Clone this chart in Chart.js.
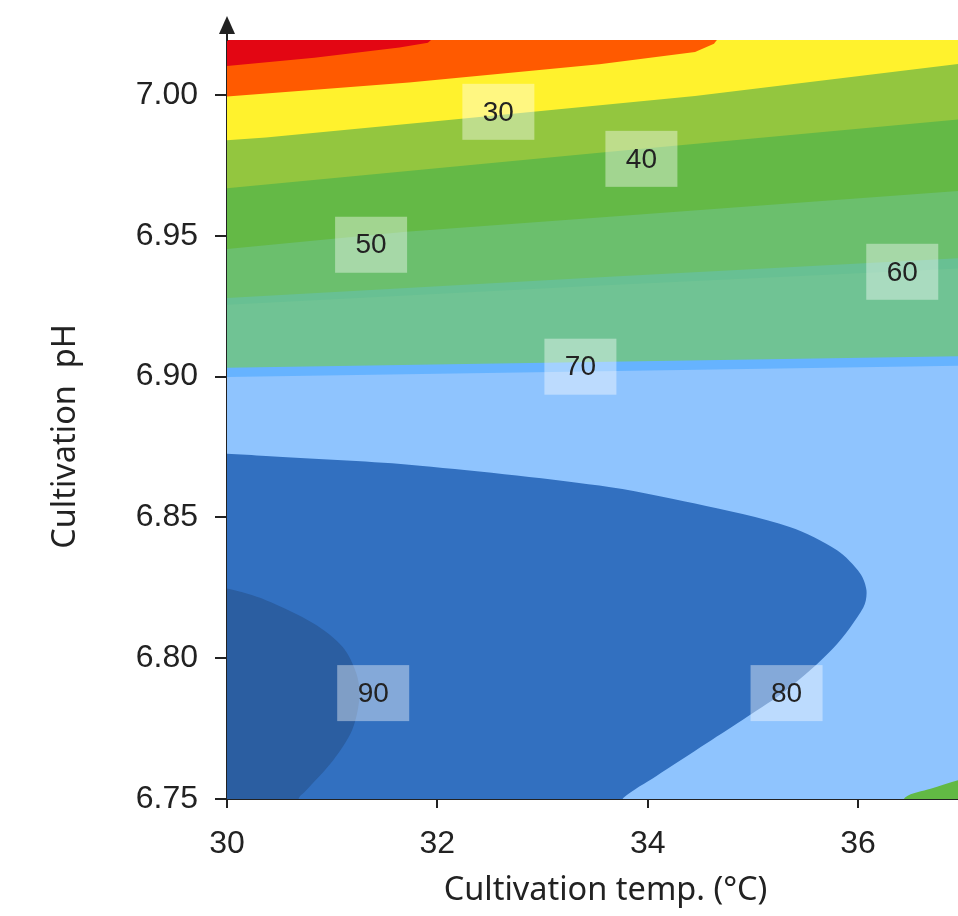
<!DOCTYPE html>
<html>
<head>
<meta charset="utf-8">
<script src="https://cdn.jsdelivr.net/npm/chart.js"></script>
<style>
html, body { margin: 0; padding: 0; background: #fff; }
</style>
</head>
<body>
<canvas id="contour-graph" width="958" height="916"></canvas>
<script>
// axis ticks
const tempTicks = [30, 32, 34, 36];
const phTicks = [6.75, 6.80, 6.85, 6.90, 6.95, 7.00];

// contour boundaries (temp in °C, pH), bottom to top
const baseTemp = [29.8, 37.2];
const basePh = [6.745, 6.745];
const blueLowTemp = [30, 37];
const blueLowPh = [6.8998, 6.9039];
const blueUpTemp = [30, 37];
const blueUpPh = [6.9031, 6.9072];
const tealUpTemp = [30, 33.5, 37];
const tealUpPh = [6.9255, 6.9322, 6.9385];
const thinUpTemp = [30, 33.5, 37];
const thinUpPh = [6.9279, 6.9352, 6.9421];
const medUpTemp = [30, 31.7, 33.54, 35.3, 37];
const medUpPh = [6.9453, 6.9514, 6.9565, 6.9614, 6.9660];
const greenUpTemp = [30, 33.54, 37];
const greenUpPh = [6.9669, 6.9795, 6.9914];
const ygUpTemp = [30, 30.37, 32.18, 34.45, 37];
const ygUpPh = [6.9839, 6.9849, 6.9914, 6.9996, 7.0112];
const yellowUpTemp = [30, 31.73, 33.54, 34.45, 34.63, 34.70];
const yellowUpPh = [6.9994, 7.0044, 7.0109, 7.0152, 7.0182, 7.0215];
const orangeUpTemp = [30, 30.83, 31.64, 31.91, 32.00];
const orangeUpPh = [7.0103, 7.0132, 7.0168, 7.0185, 7.0215];

// closed regions
const zone80Temp = [29.8, 30, 30.37, 31.73, 33.54, 34.45, 35.35, 35.80, 36.02, 36.08, 36.05, 35.77, 35.32, 34.95, 34.56, 34.08, 33.77, 33.70, 29.8];
const zone80Ph = [6.8726, 6.8726, 6.8718, 6.8687, 6.8613, 6.8549, 6.8466, 6.8383, 6.8301, 6.8240, 6.8180, 6.8038, 6.7887, 6.7793, 6.7698, 6.7581, 6.7504, 6.7450, 6.7450];
const zone90Temp = [29.8, 30, 30.37, 30.82, 31.10, 31.23, 31.26, 31.19, 31.01, 30.74, 30.69, 30.62, 29.8];
const zone90Ph = [6.8247, 6.8247, 6.8206, 6.8124, 6.8040, 6.7946, 6.7863, 6.7745, 6.7638, 6.7526, 6.7508, 6.7450, 6.7450];
const cornerTemp = [36.40, 36.45, 36.69, 37.0, 37.2, 37.2];
const cornerPh = [6.7450, 6.7506, 6.7536, 6.7571, 6.7575, 6.7450];

// contour labels
const labelText = ['30', '40', '50', '60', '70', '80', '90'];
const labelTemp = [32.58, 33.94, 31.37, 36.42, 33.36, 35.32, 31.39];
const labelPh = [6.9940, 6.9773, 6.9468, 6.9372, 6.9035, 6.7876, 6.7876];

const xTitle = 'Cultivation temp. (°C)';
const yTitle = 'Cultivation  pH';

const EDGE_LEFT = 29.8;
const EDGE_TOP = 7.03;

function toPoints(temps, phs) {
    return temps.map((t, i) => ({x: t, y: phs[i]}));
}

// area above a boundary line, up past the top of the plot
function areaAbove(temps, phs) {
    const p = toPoints(temps, phs);
    const last = p[p.length - 1];
    return [{x: EDGE_LEFT, y: p[0].y}, ...p, {x: last.x, y: EDGE_TOP}, {x: EDGE_LEFT, y: EDGE_TOP}];
}

const layers = [
    {data: areaAbove(baseTemp, basePh), color: '#8fc4fe', tension: 0},
    {data: areaAbove(blueLowTemp, blueLowPh), color: '#66b3ff', tension: 0},
    {data: areaAbove(blueUpTemp, blueUpPh), color: '#70c394', tension: 0},
    {data: areaAbove(tealUpTemp, tealUpPh), color: '#68c093', tension: 0},
    {data: areaAbove(thinUpTemp, thinUpPh), color: '#6bbf6d', tension: 0},
    {data: areaAbove(medUpTemp, medUpPh), color: '#64b946', tension: 0},
    {data: areaAbove(greenUpTemp, greenUpPh), color: '#93c63f', tension: 0},
    {data: areaAbove(ygUpTemp, ygUpPh), color: '#fff22d', tension: 0},
    {data: areaAbove(yellowUpTemp, yellowUpPh), color: '#ff5a00', tension: 0},
    {data: areaAbove(orangeUpTemp, orangeUpPh), color: '#e30613', tension: 0},
    {data: toPoints(zone80Temp, zone80Ph), color: '#3270c0', tension: 0.3},
    {data: toPoints(zone90Temp, zone90Ph), color: '#2b5ea1', tension: 0.3},
    {data: toPoints(cornerTemp, cornerPh), color: '#62b944', tension: 0.3}
];

const datasets = layers.map((l, i) => ({
    data: l.data,
    backgroundColor: l.color,
    borderColor: 'rgba(0,0,0,0)',
    borderWidth: 0,
    pointRadius: 0,
    fill: 'shape',
    tension: l.tension,
    order: layers.length - i
}));

const contourLabels = {
    id: 'contourLabels',
    afterDatasetsDraw(chart) {
        const ctx = chart.ctx;
        const xs = chart.scales.x, ys = chart.scales.y;
        ctx.save();
        ctx.font = '28px "Liberation Sans", Arial, sans-serif';
        ctx.textAlign = 'center';
        ctx.textBaseline = 'middle';
        labelText.forEach((txt, i) => {
            const px = xs.getPixelForValue(labelTemp[i]);
            const py = ys.getPixelForValue(labelPh[i]);
            ctx.fillStyle = 'rgba(255,255,255,0.4)';
            ctx.fillRect(px - 36, py - 28, 72, 56);
            ctx.fillStyle = '#222';
            ctx.fillText(txt, px, py + 1);
        });
        ctx.restore();
    }
};

// arrow on the y axis and the two axis titles
const axisDecor = {
    id: 'axisDecor',
    afterDraw(chart) {
        const ctx = chart.ctx;
        const {left, right, top, bottom} = chart.chartArea;
        ctx.save();
        ctx.strokeStyle = '#222';
        ctx.lineWidth = 2;
        ctx.beginPath();
        ctx.moveTo(left, top + 1);
        ctx.lineTo(left, top - 9);
        ctx.stroke();
        ctx.fillStyle = '#222';
        ctx.beginPath();
        ctx.moveTo(left, top - 24);
        ctx.lineTo(left - 8, top - 6);
        ctx.lineTo(left + 8, top - 6);
        ctx.closePath();
        ctx.fill();

        ctx.font = '32.5px "Noto Sans", sans-serif';
        ctx.textAlign = 'center';
        ctx.textBaseline = 'middle';
        ctx.fillText(xTitle, (left + right) / 2 + 13, bottom + 92);
        ctx.translate(66, (top + bottom) / 2 + 17);
        ctx.rotate(-Math.PI / 2);
        ctx.fillText(yTitle, 0, 0);
        ctx.restore();
    }
};

let contourChart = new Chart(document.getElementById('contour-graph').getContext('2d'), {
    type: 'line',
    data: {datasets: datasets},
    options: {
        responsive: false,
        animation: false,
        layout: {padding: {top: 40, right: 0, left: 0, bottom: 0}},
        elements: {line: {capBezierPoints: false}},
        plugins: {legend: {display: false}, tooltip: {enabled: false}},
        scales: {
            x: {
                type: 'linear',
                min: 30,
                max: 36.95,
                afterBuildTicks: s => { s.ticks = tempTicks.map(v => ({value: v})); },
                afterFit: s => { s.height = 117; },
                ticks: {
                    callback: v => String(v),
                    color: '#222',
                    font: {family: '"Liberation Sans", Arial, sans-serif', size: 32},
                    padding: 17,
                    maxRotation: 0
                },
                grid: {drawOnChartArea: false, tickLength: 9, color: '#222', lineWidth: 2},
                border: {color: '#222', width: 2}
            },
            y: {
                type: 'linear',
                min: 6.75,
                max: 7.0195,
                afterBuildTicks: s => { s.ticks = phTicks.map(v => ({value: v})); },
                afterFit: s => { s.width = 227; },
                ticks: {
                    callback: v => v.toFixed(2),
                    color: '#222',
                    font: {family: '"Liberation Sans", Arial, sans-serif', size: 32},
                    padding: 17
                },
                grid: {drawOnChartArea: false, tickLength: 12, color: '#222', lineWidth: 2},
                border: {color: '#222', width: 2}
            }
        }
    },
    plugins: [contourLabels, axisDecor]
});
</script>
</body>
</html>
